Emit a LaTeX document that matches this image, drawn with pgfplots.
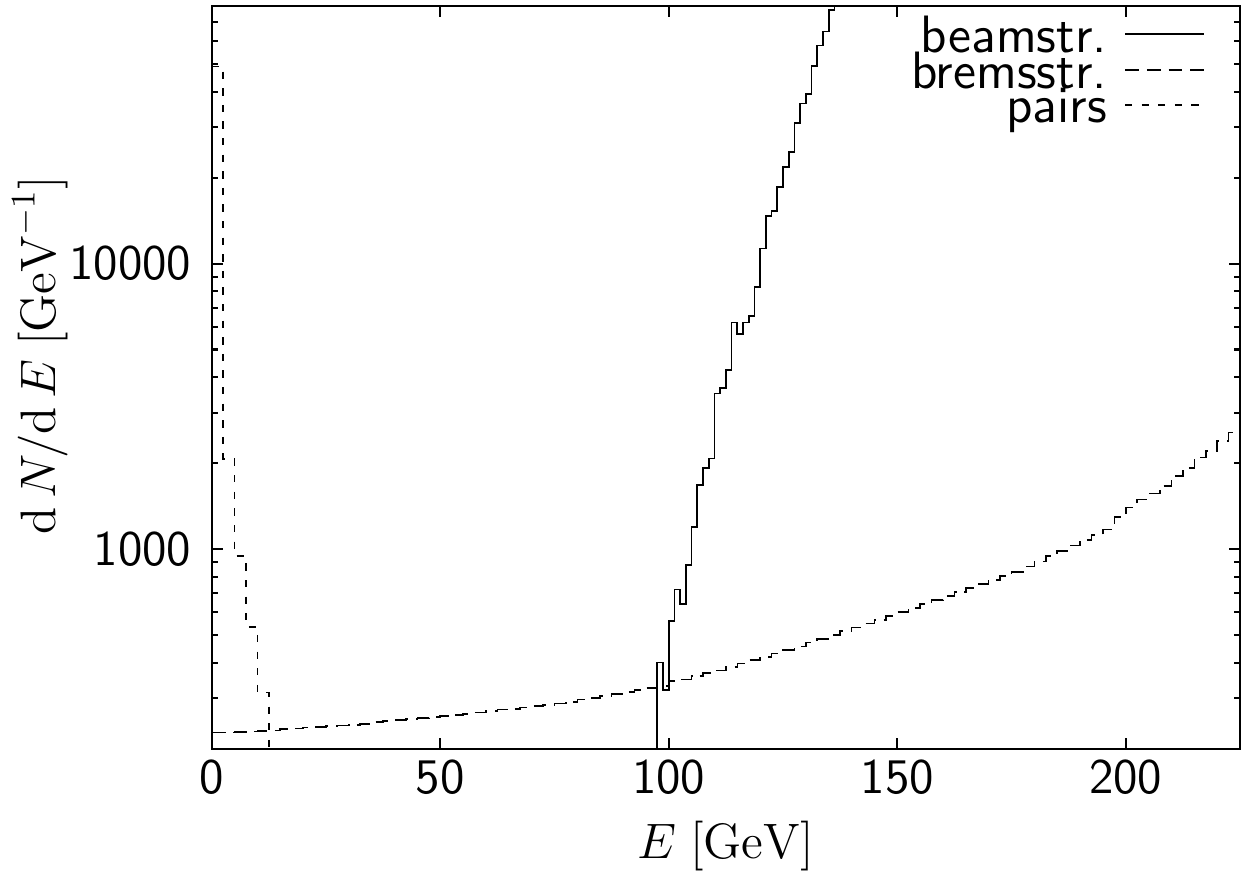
\documentclass[border=0pt]{standalone}
\usepackage{pgfplots}
\pgfplotsset{compat=1.18}
\begin{document}
\begin{tikzpicture}
\begin{axis}[
  scale only axis, width=297.35pt, height=214.85pt,
  xmin=0, xmax=225, ymode=log, ymin=200, ymax=80000,
  xtick={0,50,100,150,200}, xticklabels={0,50,100,150,200},
  ytick={1000,10000}, yticklabels={1000,10000},
  minor ytick={300,400,500,600,700,800,900,2000,3000,4000,5000,6000,7000,8000,9000,20000,30000,40000,50000,60000,70000},
  minor xtick={},
  tick align=inside, tick pos=both,
  major tick length=3.2pt, minor tick length=1.7pt,
  axis line style={line width=0.6pt},
  tick style={line width=0.6pt, black},
  tick label style={font=\Large\sffamily},
  xticklabel style={inner sep=0pt, yshift=-3pt},
  yticklabel style={inner sep=0pt, xshift=-5.7pt},
  xlabel={$E\;[\mathrm{GeV}]$},
  ylabel={$\mathrm{d}\,N/\mathrm{d}\,E\;[\mathrm{GeV}^{-1}]$},
  label style={font=\Large},
  xlabel style={at={(axis description cs:0.5,-0.131)}, anchor=center},
  ylabel style={at={(axis description cs:-0.167,0.53)}, anchor=center},
  legend cell align=right,
  legend plot pos=right,
  legend image code/.code={\draw[#1] (0pt,0.9pt) -- (22.8pt,0.9pt);},
  legend style={draw=none, fill=none, at={(axis description cs:1,1)}, anchor=north east,
    xshift=-10pt, yshift=-1.8pt, font=\fontsize{15.2}{17}\selectfont\sffamily, row sep=-3.6pt, column sep=4pt,
    inner sep=0pt, nodes={inner sep=1pt}},
]
\addplot[const plot, black, line width=0.5pt] coordinates {
(96.25,1) (97.5,401) (98.75,321) (100,560) (101.25,722) (102.5,642) (103.75,879)
(105,1197) (106.25,1680) (107.5,1921) (108.75,2078) (110,3510) (111.25,3673)
(112.5,4227) (113.75,6223) (115,5680) (116.25,6223) (117.5,6547) (118.75,8298)
(120,11300) (121.25,14660) (122.5,15240) (123.75,18500) (125,21830) (126.25,24650)
(127.5,31120) (128.75,36380) (130,39260) (131.25,49100) (132.5,58100) (133.75,65000)
(135,77300) (136.25,95000) (137.5,110000) (138.75,120000)
};
\addlegendentry{beamstr.}
\addplot[const plot, black, line width=0.45pt, dash pattern=on 4pt off 2.3pt] coordinates {
(0,228) (2.5,228) (5,229) (7.5,230) (10,231) (12.5,232) (15,234) (17.5,235) (20,237) (22.5,238)
(25,240) (27.5,241) (30,242) (32.5,244) (35,248) (37.5,250) (40,252) (42.5,254) (45,256) (47.5,258)
(50,260) (52.5,263) (55,265) (57.5,268) (60,271) (62.5,274) (65,276) (67.5,279) (70,282) (72.5,285)
(75,288) (77.5,292) (80,297) (82.5,301) (85,306) (87.5,311) (90,316) (92.5,321) (95,326) (97.5,332)
(100,345) (102.5,350) (105,360) (107.5,369) (110,376) (112.5,386) (115,397) (117.5,408) (120,419) (122.5,431)
(125,443) (127.5,456) (130,471) (132.5,485) (135,500) (137.5,516) (140,532) (142.5,548) (145,565) (147.5,583)
(150,601) (152.5,621) (155,641) (157.5,662) (160,684) (162.5,708) (165,731) (167.5,755) (170,780) (172.5,805)
(175,832) (177.5,869) (180,906) (182.5,946) (185,986) (187.5,1030) (190,1076) (192.5,1122) (195,1172) (197.5,1298)
(200,1400) (202.5,1494) (205,1567) (207.5,1663) (210,1802) (212.5,1927) (215,2095) (217.5,2204) (220,2395) (222.5,2564)
(225,2564)
};
\addlegendentry{bremsstr.}
\addplot[const plot, black, line width=0.45pt, dash pattern=on 2.1pt off 2.7pt] coordinates {
(0,49000) (2.5,2066) (5,945) (7.5,534) (10,315) (12.5,10) (15,10)
};
\addlegendentry{pairs}
\end{axis}
\pgfresetboundingbox
\path[use as bounding box] (-61.22pt,-37.97pt) rectangle (298.8pt,216.5pt);
\end{tikzpicture}
\end{document}
